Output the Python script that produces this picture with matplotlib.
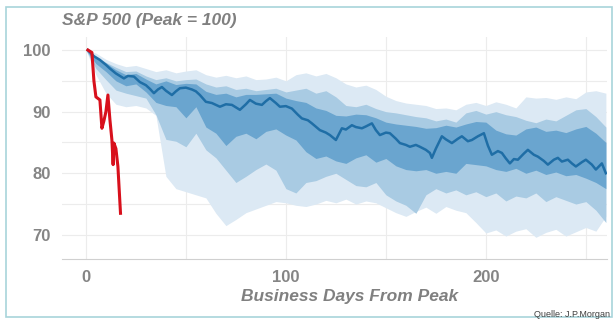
import numpy as np
import matplotlib; matplotlib.use("Agg")
import matplotlib.pyplot as plt
from matplotlib.patches import Rectangle

# ---- data ----
band_days = list(range(0, 261, 5))
outer_hi = [100, 99.5, 98.5, 97.8, 97.3, 97.5, 97, 96.5, 96.8, 96.3, 96.6, 96.8, 96, 95.6, 95.9, 95.5,
            95.8, 95.2, 95.3, 95.6, 95, 96, 96.3, 95.8, 96.2, 95.5, 94.5, 94, 94.3, 93.6, 92.5, 91.8,
            91.4, 91.2, 91, 90.5, 90.6, 90.3, 91.2, 91.5, 91, 91.6, 91.2, 90.6, 92.4, 92.2, 92.3, 92,
            92.4, 92.1, 93.2, 93.4, 93]
outer_lo = [100, 96, 93, 91.2, 90.8, 91, 90.6, 89.4, 79.5, 77.5, 77, 76.5, 76, 73.5, 71.5, 72.5,
            73.6, 74.2, 74.8, 75.4, 75.2, 74.8, 74.6, 75, 75.6, 75.2, 75.8, 75, 75.5, 75.2, 74.4, 73.6,
            73, 73.8, 74.5, 73.5, 74.6, 74, 73.6, 72, 70.3, 70.8, 69.8, 70.6, 71, 69.6, 70.4, 70.9,
            69.8, 70.5, 71.2, 70.6, 73]
mid_hi = [100, 99, 98, 97.2, 96.5, 96.6, 95.8, 95.2, 95.5, 95, 95.2, 95.3, 94.5, 94, 94.2, 93.6,
          93.8, 93.4, 93.6, 93.8, 93.2, 93.5, 93.8, 93, 93.4, 92.4, 91, 90.8, 91.2, 90.5, 90, 89.8,
          89.5, 89.2, 89, 88.5, 88.8, 88.3, 89.8, 90.2, 89.6, 90, 89.5, 89.2, 88.6, 88.2, 88.8, 88.5,
          89.4, 90.3, 90.5, 89.2, 87.5]
mid_lo = [100, 97, 95.2, 93.5, 93, 92.6, 92.2, 89.5, 85.5, 85.2, 84.3, 86.5, 83.8, 82.5, 80.5, 78.5,
          79.5, 80.6, 81.5, 80.5, 77.5, 76.8, 78.5, 78.8, 79.5, 80, 79, 78, 77.8, 78.5, 76.5, 75.5,
          74.8, 73.5, 76.5, 77.5, 76.8, 77.3, 76.5, 77, 76.2, 76.8, 75.5, 76.3, 76, 76.8, 75.4, 76.2,
          75.6, 75, 75.4, 74, 72]
inner_hi = [100, 98.8, 97.9, 96.8, 96, 96.2, 95.3, 94.5, 95, 94.4, 94.6, 94.5, 93.3, 92.8, 93, 92.4,
            92.8, 92.8, 92.9, 93, 92.2, 91.8, 91.5, 90.6, 90.2, 89.4, 89.3, 89.6, 89.5, 89, 88.3, 88,
            87.8, 87.6, 87.3, 87.4, 87.8, 87.5, 88, 88.4, 88.3, 87, 86.4, 86.2, 87.2, 87.5, 86.8, 87,
            86.6, 87.2, 87.6, 86.5, 85]
inner_lo = [100, 97.8, 96.5, 95, 94.2, 94.5, 93.2, 91.5, 91, 90.8, 89, 90.8, 87.5, 86.5, 84.5, 86,
            86.5, 85.6, 86.8, 87.2, 86.2, 85.4, 83.5, 82.4, 82.8, 82, 81.6, 82.5, 83, 81.8, 82.4, 81.2,
            80.6, 80.4, 80.6, 80, 80.3, 80, 81.6, 81.4, 81.2, 80.6, 80.3, 80.8, 80, 80.5, 79.8, 80.2,
            79.6, 79.8, 79.2, 78.5, 77.5]

median_days = [1, 4, 7, 10, 12, 15, 19, 21, 24, 27, 30, 32, 34, 36, 38, 40, 43, 45, 47, 50, 53, 55,
               57, 60, 63, 67, 70, 73, 75, 77, 80, 82, 85, 88, 90, 92, 95, 97, 100, 103, 106, 108,
               111, 113, 117, 120, 122, 125, 128, 130, 133, 135, 138, 140, 143, 145, 147, 150, 152,
               155, 157, 160, 162, 165, 167, 170, 172, 173, 175, 178, 180, 183, 186, 188, 191, 193,
               196, 199, 201, 203, 206, 208, 210, 212, 214, 216, 219, 221, 224, 226, 229, 231, 234,
               236, 238, 241, 243, 245, 248, 250, 253, 255, 258, 260]
median = [100, 99, 98.4, 97.6, 97, 96.2, 95.4, 95.8, 95.7, 94.8, 94.3, 93.7, 93, 93.6, 94, 93.4,
          92.7, 93.3, 93.8, 93.9, 93.6, 93.3, 92.7, 91.6, 91.4, 90.8, 91.2, 91.1, 90.7, 90.3, 91.2,
          91.9, 91.3, 91.1, 91.7, 92.2, 91.4, 90.8, 90.9, 90.5, 89.5, 88.9, 88.6, 88.1, 87, 86.6,
          86.2, 85.4, 87.3, 87.1, 87.8, 87.5, 87.3, 87.6, 88.1, 87, 86.2, 86.6, 86.5, 85.6, 84.9,
          84.6, 84.3, 84.6, 84.3, 83.8, 83.3, 82.5, 84, 86, 85.5, 84.9, 85.6, 86, 85.2, 85.4, 86,
          86.5, 84.5, 83, 83.6, 83.3, 82.4, 81.6, 82.3, 82.2, 83.2, 83.8, 83, 82.7, 82, 81.4, 82.2,
          82.5, 81.9, 82.2, 81.6, 81.1, 81.8, 82.2, 81.4, 80.6, 81.6, 80]

current_days = [1, 3, 4, 5, 7, 8, 9, 10, 11, 12, 13, 13.6, 14, 15, 16, 17.3]
current = [100, 99.6, 95, 92.4, 91.9, 87.3, 88.5, 90, 92.7, 88.7, 85.4, 81.4, 84.9, 84, 81.1, 73.5]

title = "S&P 500 (Peak = 100)"
xlabel = "Business Days From Peak"
source = "Quelle: J.P.Morgan"

plt.rcParams["font.family"] = ["Liberation Sans", "DejaVu Sans"]
fig = plt.figure(figsize=(6.13, 3.2), dpi=100)
ax = fig.add_axes([0.101, 0.191, 0.889, 0.693])

ax.fill_between(band_days, outer_lo, outer_hi, color="#dce9f4", lw=0)
ax.fill_between(band_days, mid_lo, mid_hi, color="#a9cbe3", lw=0)
ax.fill_between(band_days, inner_lo, inner_hi, color="#6aa5cf", lw=0)
ax.plot(median_days, median, color="#1f6ea6", lw=1.8)
ax.plot(current_days, current, color="#d8101c", lw=2.2)

ax.set_xlim(-12, 260.5)
ax.set_ylim(66.1, 102.1)
ax.set_xticks([0, 100, 200])
ax.set_xticks([50, 150, 250], minor=True)
ax.set_yticks([70, 80, 90, 100])
ax.set_yticks([75, 85, 95], minor=True)
ax.grid(which="both", color="#ececec", lw=0.8)
ax.set_axisbelow(True)
for s in ["top", "right", "left"]:
    ax.spines[s].set_visible(False)
ax.spines["bottom"].set_color("#d0d0d0")
ax.tick_params(which="both", length=0)
ax.tick_params(axis="both", labelsize=12, labelcolor="#858585", pad=8)
for lab in ax.get_xticklabels() + ax.get_yticklabels():
    lab.set_fontweight("bold")

fig.text(0.101, 0.935, title, fontsize=12.5, fontweight="bold", style="italic",
         color="#808080", va="center", ha="left")
fig.text(0.57, 0.072, xlabel, fontsize=12.5, fontweight="bold", style="italic",
         color="#808080", va="center", ha="center")
fig.text(0.995, 0.018, source, fontsize=6.5, color="#404040", ha="right", va="center")

fig.patches.append(Rectangle((0.009, 0.009), 0.99, 0.97, transform=fig.transFigure,
                             fill=False, ec="#a8d4da", lw=1.2))

fig.savefig("out.png", dpi=100)
